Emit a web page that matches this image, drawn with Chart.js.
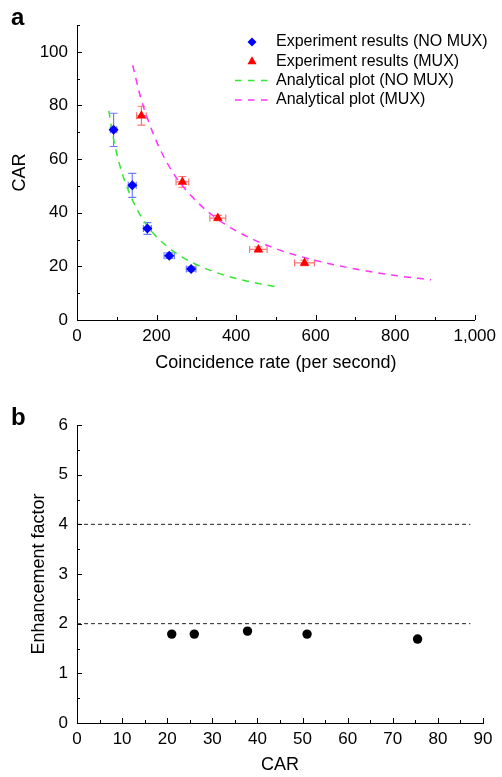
<!DOCTYPE html>
<html>
<head>
<meta charset="utf-8">
<script src="https://cdn.jsdelivr.net/npm/chart.js@4"></script>
<style>
  body { margin: 0; background: #fff; }
  #wrap { position: relative; width: 502px; height: 777px; font-family: "Liberation Sans", Arial, sans-serif; }
  canvas { position: absolute; left: 0; }
  .panel { position: absolute; left: 11px; font-weight: bold; font-size: 24px; line-height: 24px; color: #000; }
</style>
</head>
<body>
<div id="wrap">
  <canvas id="chartA" width="502" height="390" style="top:0"></canvas>
  <canvas id="chartB" width="502" height="387" style="top:390px"></canvas>
  <div class="panel" style="top:5px">a</div>
  <div class="panel" style="top:405px">b</div>
</div>
<script>
// panel a: experiment points (rate, CAR) with error bars
const noMuxRate = [92, 139, 177, 232, 287];
const noMuxCar = [70.9, 50.2, 34.1, 24.0, 19.0];
const noMuxRateErr = [8, 10, 10, 13, 12];
const noMuxCarErr = [6.2, 4.5, 2.2, 1.0, 0.8];

const muxRate = [162, 265, 354, 456, 572];
const muxCar = [76.2, 51.5, 38.0, 26.3, 21.3];
const muxRateErr = [12, 16, 20, 22, 25];
const muxCarErr = [3.5, 2.0, 1.0, 1.0, 1.0];

// analytical curves
const noMuxCurveX = [80, 90, 100, 115, 130, 150, 175, 200, 250, 300, 350, 400, 450, 500];
const noMuxCurveY = [78, 69, 62, 54, 48, 41.5, 35.5, 31, 24.8, 20.7, 17.7, 15.5, 13.8, 12.4];
const muxCurveX = [140, 160, 180, 200, 225, 250, 300, 350, 400, 500, 600, 700, 800, 890];
const muxCurveY = [95, 83, 74, 66.5, 59, 53, 44.3, 38, 33.2, 26.6, 22.2, 19, 16.6, 15];

const labelsA = ['Experiment results (NO MUX)', 'Experiment results (MUX)', 'Analytical plot (NO MUX)', 'Analytical plot (MUX)'];
const rateTicks = [0, 200, 400, 600, 800, 1000];
const carTicks = [0, 20, 40, 60, 80, 100];

// panel b: enhancement factor vs CAR
const carValues = [21.0, 26.0, 37.8, 51.0, 75.5];
const enhancement = [1.79, 1.79, 1.85, 1.79, 1.69];
const refLevels = [4, 2];
const refSpan = [0, 87.2];

const FONT = '"Liberation Sans", Arial, sans-serif';
Chart.defaults.font.family = FONT;
Chart.defaults.color = '#000';

function pts(xs, ys) {
  return xs.map((x, i) => ({ x: x, y: ys[i] }));
}

// error bars drawn through the scales
const errorBars = {
  id: 'errorBars',
  beforeDatasetsDraw(chart) {
    const ctx = chart.ctx;
    const xs = chart.scales.x, ys = chart.scales.y;
    chart.data.datasets.forEach(ds => {
      if (!ds.xErr) return;
      ctx.save();
      ctx.strokeStyle = ds.errColor;
      ctx.lineWidth = 1.2;
      ds.data.forEach((p, i) => {
        const cx = xs.getPixelForValue(p.x), cy = ys.getPixelForValue(p.y);
        const x0 = xs.getPixelForValue(p.x - ds.xErr[i]), x1 = xs.getPixelForValue(p.x + ds.xErr[i]);
        const y0 = ys.getPixelForValue(p.y - ds.yErr[i]), y1 = ys.getPixelForValue(p.y + ds.yErr[i]);
        ctx.beginPath();
        ctx.moveTo(x0, cy); ctx.lineTo(x1, cy);
        ctx.moveTo(x0, cy - 3.5); ctx.lineTo(x0, cy + 3.5);
        ctx.moveTo(x1, cy - 3.5); ctx.lineTo(x1, cy + 3.5);
        ctx.moveTo(cx, y0); ctx.lineTo(cx, y1);
        ctx.moveTo(cx - 4, y0); ctx.lineTo(cx + 4, y0);
        ctx.moveTo(cx - 4, y1); ctx.lineTo(cx + 4, y1);
        ctx.stroke();
      });
      ctx.restore();
    });
  }
};

// inward major/minor tick marks
const innerTicks = {
  id: 'innerTicks',
  afterDraw(chart, args, opts) {
    const ctx = chart.ctx, area = chart.chartArea;
    ctx.save();
    ctx.strokeStyle = '#000';
    ctx.lineWidth = 1;
    ['x', 'y'].forEach(id => {
      const sc = chart.scales[id];
      const majors = sc.ticks.map(t => t.value);
      const step = opts[id];
      for (let v = sc.min; v <= sc.max + 1e-9; v += step) {
        const val = Math.round(v * 1000) / 1000;
        const len = majors.some(m => Math.abs(m - val) < 1e-6) ? 5 : 3;
        const p = Math.round(sc.getPixelForValue(val)) + 0.5;
        ctx.beginPath();
        if (id === 'x') { ctx.moveTo(p, area.bottom); ctx.lineTo(p, area.bottom - len); }
        else { ctx.moveTo(area.left, p); ctx.lineTo(area.left + len, p); }
        ctx.stroke();
      }
    });
    ctx.restore();
  }
};

// legend inside the plot area, top right
const innerLegend = {
  id: 'innerLegend',
  afterDraw(chart) {
    const ctx = chart.ctx, area = chart.chartArea;
    const mx = area.left + 175, tx = area.left + 199;
    ctx.save();
    ctx.font = '16px ' + FONT;
    ctx.textBaseline = 'middle';
    ctx.fillStyle = '#000';
    chart.data.datasets.forEach((ds, i) => {
      const y = area.top + 17 + i * 19.3;
      if (ds.showLine) {
        ctx.strokeStyle = ds.borderColor;
        ctx.lineWidth = 1.5;
        ctx.setLineDash([6.5, 6.5]);
        ctx.beginPath(); ctx.moveTo(mx - 17, y); ctx.lineTo(mx + 17, y); ctx.stroke();
        ctx.setLineDash([]);
      } else {
        ctx.fillStyle = ds.backgroundColor;
        ctx.beginPath();
        if (ds.pointStyle === 'rectRot') {
          ctx.moveTo(mx, y - 4.5); ctx.lineTo(mx + 4.5, y); ctx.lineTo(mx, y + 4.5); ctx.lineTo(mx - 4.5, y);
        } else {
          ctx.moveTo(mx, y - 5); ctx.lineTo(mx + 4.5, y + 3); ctx.lineTo(mx - 4.5, y + 3);
        }
        ctx.closePath(); ctx.fill();
        ctx.fillStyle = '#000';
      }
      ctx.fillText(ds.label, tx, y);
    });
    ctx.restore();
  }
};

function axis(min, max, step, title, titlePad, fixSize, isX, keep) {
  return {
    type: 'linear',
    min: min, max: max,
    grid: { display: false, drawTicks: false },
    border: { display: true, color: '#000', width: 1 },
    ticks: {
      stepSize: step,
      padding: isX ? 6 : 9,
      font: { size: 17 },
      color: '#000',
      callback: v => v.toLocaleString('en-US')
    },
    afterBuildTicks: keep ? (sc => { sc.ticks = keep.map(v => ({ value: v })); }) : undefined,
    title: { display: true, text: title, font: { size: 18 }, color: '#000', padding: titlePad },
    afterFit: sc => { if (isX) sc.height = fixSize; else sc.width = fixSize; }
  };
}

new Chart(document.getElementById('chartA'), {
  type: 'scatter',
  data: {
    datasets: [
      { label: labelsA[0], data: pts(noMuxRate, noMuxCar), xErr: noMuxRateErr, yErr: noMuxCarErr,
        errColor: 'rgba(60,80,255,0.75)', pointStyle: 'rectRot', pointRadius: 5,
        backgroundColor: '#0000ff', borderColor: '#0000ff', borderWidth: 0 },
      { label: labelsA[1], data: pts(muxRate, muxCar), xErr: muxRateErr, yErr: muxCarErr,
        errColor: 'rgba(255,70,70,0.75)', pointStyle: 'triangle', pointRadius: 5.5,
        backgroundColor: '#ff0000', borderColor: '#ff0000', borderWidth: 0 },
      { label: labelsA[2], data: pts(noMuxCurveX, noMuxCurveY), showLine: true, pointRadius: 0,
        borderColor: '#33e833', borderWidth: 1.5, borderDash: [7, 6], cubicInterpolationMode: 'monotone' },
      { label: labelsA[3], data: pts(muxCurveX, muxCurveY), showLine: true, pointRadius: 0,
        borderColor: '#ff33ff', borderWidth: 1.5, borderDash: [7, 6], cubicInterpolationMode: 'monotone' }
    ]
  },
  options: {
    responsive: false,
    animation: false,
    devicePixelRatio: 1,
    layout: { padding: { top: 25, right: 25, left: 0, bottom: 0 } },
    plugins: {
      legend: { display: false },
      tooltip: { enabled: false },
      innerTicks: { x: 100, y: 10 }
    },
    scales: {
      x: axis(0, 1000, 200, 'Coincidence rate (per second)', { top: 0, bottom: 16 }, 70, true, rateTicks),
      y: axis(0, 110, 20, 'CAR', { top: 9, bottom: 0 }, 77, false, carTicks)
    }
  },
  plugins: [errorBars, innerTicks, innerLegend]
});

new Chart(document.getElementById('chartB'), {
  type: 'scatter',
  data: {
    datasets: [
      { label: 'Enhancement factor', data: pts(carValues, enhancement), pointStyle: 'circle',
        pointRadius: 4.7, backgroundColor: '#000', borderColor: '#000', borderWidth: 0 }
    ].concat(refLevels.map(lv => ({
      label: 'ref ' + lv, data: pts(refSpan, [lv, lv]), showLine: true, pointRadius: 0,
      borderColor: '#222', borderWidth: 1, borderDash: [4, 3]
    })))
  },
  options: {
    responsive: false,
    animation: false,
    devicePixelRatio: 1,
    layout: { padding: { top: 35, right: 19, left: 0, bottom: 0 } },
    plugins: {
      legend: { display: false },
      tooltip: { enabled: false },
      innerTicks: { x: 5, y: 0.5 }
    },
    scales: {
      x: axis(0, 90, 10, 'CAR', { top: 0, bottom: 1 }, 54, true),
      y: axis(0, 6, 1, 'Enhancement factor', { top: 28, bottom: 0 }, 77, false)
    }
  },
  plugins: [innerTicks]
});
</script>
</body>
</html>
